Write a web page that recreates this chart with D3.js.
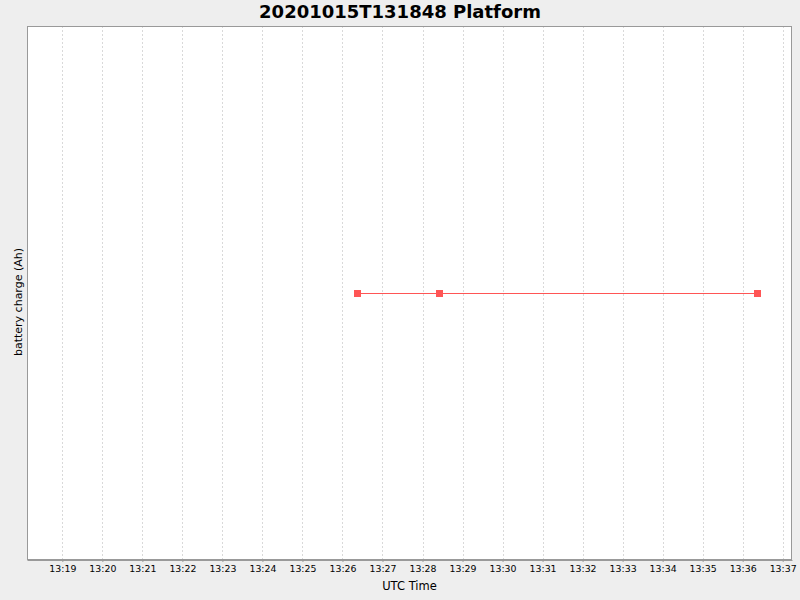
<!DOCTYPE html>
<html>
<head>
<meta charset="utf-8">
<script src="https://cdn.jsdelivr.net/npm/d3@7"></script>
<style>
  html, body { margin: 0; padding: 0; background: #eeeeee; }
  svg { display: block; }
</style>
</head>
<body>
<svg id="chart" width="800" height="600"></svg>
<script>
// ---- data ----
const chartTitle = "20201015T131848 Platform";
const xLabel = "UTC Time";
const yLabel = "battery charge (Ah)";
const times = ["2020-10-15T13:26:22Z", "2020-10-15T13:28:24Z", "2020-10-15T13:36:21Z"];
const charge = [0, 0, 0];
const xDomain = ["2020-10-15T13:18:07Z", "2020-10-15T13:37:14Z"];

// ---- layout ----
const svg = d3.select("#chart");
const plot = { left: 27, top: 26, right: 792, bottom: 560 };

svg.append("rect").attr("width", 800).attr("height", 600).attr("fill", "#eeeeee");

const x = d3.scaleUtc()
  .domain(xDomain.map(d => new Date(d)))
  .range([plot.left, plot.right]);
const y = d3.scaleLinear()
  .domain([-1, 1])
  .range([plot.bottom + 1, plot.top]);

svg.append("rect")
  .attr("x", plot.left).attr("y", plot.top)
  .attr("width", plot.right - plot.left).attr("height", plot.bottom - plot.top)
  .attr("fill", "#ffffff");

const ticks = x.ticks(d3.utcMinute.every(1));

// gridlines
svg.append("g")
  .selectAll("line").data(ticks).join("line")
  .attr("x1", d => Math.round(x(d)) + 0.5).attr("x2", d => Math.round(x(d)) + 0.5)
  .attr("y1", plot.top).attr("y2", plot.bottom)
  .attr("stroke", "#d9d9d9").attr("stroke-width", 1)
  .attr("stroke-dasharray", "2,2");

// plot border
svg.append("rect")
  .attr("x", plot.left + 0.5).attr("y", plot.top + 0.5)
  .attr("width", plot.right - plot.left - 1).attr("height", plot.bottom - plot.top - 1)
  .attr("fill", "none").attr("stroke", "#999999").attr("stroke-width", 1);

// x axis
const xAxis = d3.axisBottom(x)
  .tickValues(ticks)
  .tickFormat(d3.utcFormat("%H:%M"))
  .tickSizeInner(2).tickSizeOuter(0).tickPadding(3);
const gx = svg.append("g")
  .attr("transform", `translate(0,${plot.bottom})`)
  .call(xAxis);
gx.select(".domain").attr("stroke", "#999999");
gx.selectAll(".tick line").attr("stroke", "#999999");
gx.selectAll(".tick text")
  .attr("fill", "#000")
  .style("font-family", "'DejaVu Sans', sans-serif")
  .style("font-size", "9.4px");

// series
const pts = times.map((t, i) => ({ t: new Date(t), v: charge[i] }));
const line = d3.line().x(d => x(d.t)).y(d => y(d.v));
svg.append("path")
  .datum(pts)
  .attr("d", line)
  .attr("fill", "none")
  .attr("stroke", "#ff5555")
  .attr("stroke-width", 1)
  .attr("shape-rendering", "crispEdges");
svg.append("g")
  .selectAll("rect").data(pts).join("rect")
  .attr("x", d => Math.round(x(d.t)) - 3).attr("y", d => y(d.v) - 3.5)
  .attr("width", 7).attr("height", 7)
  .attr("fill", "#ff5555");

// title
svg.append("text")
  .attr("x", 400).attr("y", 18)
  .attr("text-anchor", "middle")
  .style("font-family", "'DejaVu Sans', sans-serif")
  .style("font-weight", "bold")
  .style("font-size", "18px")
  .attr("fill", "#000")
  .text(chartTitle);

// axis labels
svg.append("text")
  .attr("x", (plot.left + plot.right) / 2).attr("y", 590)
  .attr("text-anchor", "middle")
  .style("font-family", "'DejaVu Sans', sans-serif")
  .style("font-size", "11.5px")
  .attr("fill", "#000")
  .text(xLabel);

svg.append("text")
  .attr("transform", `translate(22,${(plot.top + plot.bottom) / 2 + 9}) rotate(-90)`)
  .attr("text-anchor", "middle")
  .style("font-family", "'DejaVu Sans', sans-serif")
  .style("font-size", "11px")
  .attr("fill", "#000")
  .text(yLabel);
</script>
</body>
</html>
